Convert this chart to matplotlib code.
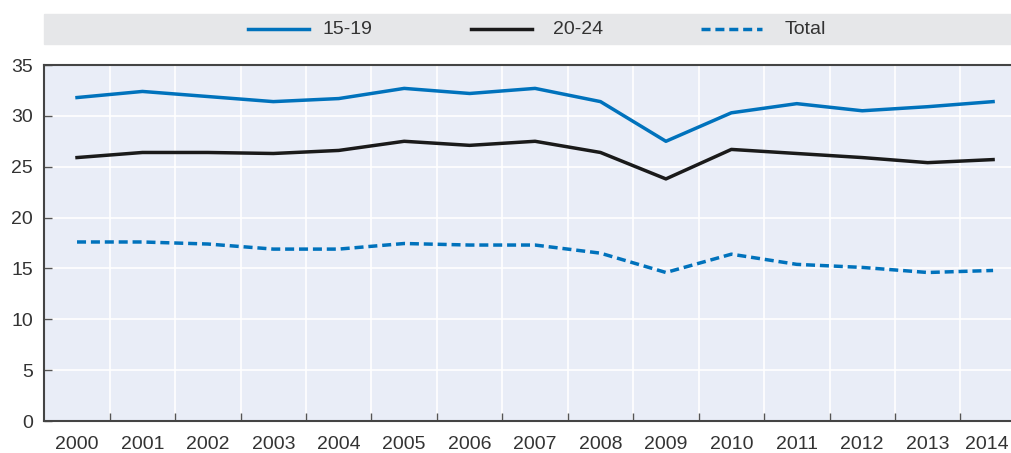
import matplotlib
matplotlib.use("Agg")
import matplotlib.pyplot as plt
import matplotlib.transforms as mtransforms
from matplotlib import font_manager
from matplotlib.patches import Rectangle
from matplotlib.lines import Line2D

# шрифт: узкий, если есть
names = {f.name for f in font_manager.fontManager.ttflist}
family = "Liberation Sans Narrow" if "Liberation Sans Narrow" in names else "Liberation Sans"
plt.rcParams["font.family"] = [family, "DejaVu Sans"]

years = [str(y) for y in range(2000, 2015)]
age_15_19 = [31.8, 32.4, 31.9, 31.4, 31.7, 32.7, 32.2, 32.7, 31.4, 27.5,
             30.3, 31.2, 30.5, 30.9, 31.4]
age_20_24 = [25.9, 26.4, 26.4, 26.3, 26.6, 27.5, 27.1, 27.5, 26.4, 23.8,
             26.7, 26.3, 25.9, 25.4, 25.7]
total = [17.6, 17.6, 17.4, 16.9, 16.9, 17.45, 17.3, 17.3, 16.5, 14.6,
         16.4, 15.4, 15.1, 14.6, 14.8]
y_ticks = [0, 5, 10, 15, 20, 25, 30, 35]

BLUE = "#0072bc"
BLACK = "#1a1a1a"
TXT = "#333333"
DASH = (0, (2.6, 1.4))

W, H = 1012, 453
fig = plt.figure(figsize=(W / 100, H / 100), dpi=100)
# ось шире фигуры: последняя колонка обрезается краем картинки
ax = fig.add_axes([44.3 / W, 32 / H, 981.5 / W, 356 / H])
ax.set_facecolor("#e9edf7")

x = list(range(len(years)))
ax.plot(x, age_15_19, color=BLUE, lw=2.5)
ax.plot(x, age_20_24, color=BLACK, lw=2.5)
ax.plot(x, total, color=BLUE, lw=2.5, ls=DASH)

ax.set_xlim(-0.5, len(years) - 0.5)
ax.set_ylim(0, 35)
ax.set_yticks(y_ticks)
ax.set_yticklabels([str(v) for v in y_ticks], fontsize=14, color=TXT)

# подписи лет по центрам, деления и сетка на границах
ax.set_xticks(x)
ax.set_xticklabels(years, fontsize=14, color=TXT)
ax.tick_params(axis="x", which="major", length=0, pad=11)
ax.set_xticks([i + 0.5 for i in x[:-1]], minor=True)
ax.tick_params(axis="x", which="minor", direction="in", length=6,
               width=1, color="#555555")
ax.tick_params(axis="y", direction="in", length=6, width=1,
               color="#555555", pad=8)

# последняя подпись упирается в край — сдвигаем чуть влево
last = ax.get_xticklabels()[-1]
last.set_transform(last.get_transform() +
                   mtransforms.ScaledTranslation(-6 / 100, 0, fig.dpi_scale_trans))

ax.grid(False)
for v in y_ticks[1:-1]:
    ax.axhline(v, color="white", lw=1.2, zorder=0.5)
for i in x[:-1]:
    ax.axvline(i + 0.5, color="white", lw=1.2, zorder=0.5)

for side in ("left", "bottom", "top"):
    ax.spines[side].set_color("#444444")
    ax.spines[side].set_linewidth(1.5)
ax.spines["right"].set_visible(False)

# легенда в серой полосе сверху
fig.patches.append(Rectangle((44 / W, 1 - 44 / H), 968 / W, 30 / H,
                             transform=fig.transFigure, color="#e6e7e9",
                             zorder=0))
entries = [(248, 323, "15-19", BLUE, "-"), (471, 553, "20-24", BLACK, "-"),
           (701, 785, "Total", BLUE, DASH)]
ly = 1 - 29 / H
for px, tx, label, col, ls in entries:
    fig.lines.append(Line2D([px / W, (px + 61) / W], [ly, ly],
                            transform=fig.transFigure, color=col, lw=2.5, ls=ls))
    fig.text(tx / W, ly, label, fontsize=14, color=TXT, va="center")

fig.savefig("out.png", dpi=100)
